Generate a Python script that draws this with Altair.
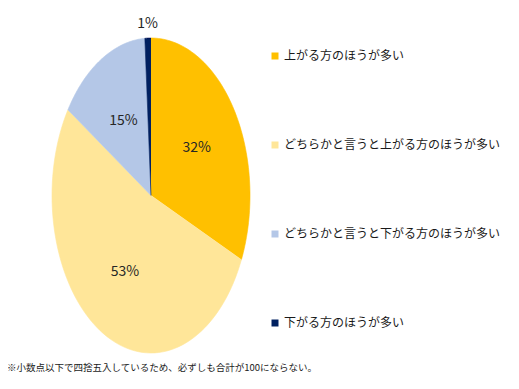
import altair as alt
import pandas as pd

categories = [
    "上がる方のほうが多い",
    "どちらかと言うと上がる方のほうが多い",
    "どちらかと言うと下がる方のほうが多い",
    "下がる方のほうが多い",
]
values = [32, 53, 15, 1]
colors = ["#FFC000", "#FFE699", "#B4C7E7", "#002060"]
note = ["※小数点以下で四捨五入しているため、必ずしも合計が100にならない。"]

FONT = "Noto Sans CJK JP"

df = pd.DataFrame({"category": categories, "value": values, "idx": list(range(len(values)))})

base = alt.Chart(df).transform_window(
    cum="sum(value)", sort=[alt.SortField("idx")], frame=[None, 0]
).transform_joinaggregate(
    total="sum(value)"
).transform_calculate(
    start="(datum.cum - datum.value) / datum.total * 2 * PI",
    end="datum.cum / datum.total * 2 * PI",
)

xs = alt.Scale(domain=[-1, 1], range=[44, 242])
ys = alt.Scale(domain=[-1, 1], range=[345, 30])

slices = base.transform_calculate(
    pts="sequence(0, 82)"
).transform_flatten(
    ["pts"], as_=["i"]
).transform_calculate(
    theta="datum.i == 0 ? 0 : datum.start + (datum.end - datum.start) * (datum.i - 1) / 80",
    px="datum.i == 0 ? 0 : sin(datum.theta)",
    py="datum.i == 0 ? 0 : cos(datum.theta)",
).mark_line(filled=True, strokeWidth=0.6).encode(
    x=alt.X("px:Q", scale=xs, axis=None),
    y=alt.Y("py:Q", scale=ys, axis=None),
    order=alt.Order("i:Q"),
    color=alt.Color(
        "category:N",
        scale=alt.Scale(domain=categories, range=colors),
        legend=alt.Legend(
            title=None,
            orient="none",
            legendX=261,
            legendY=42,
            symbolType="square",
            symbolSize=49,
            symbolStrokeWidth=0,
            labelFontSize=12,
            labelFont=FONT,
            labelColor="#1a1a1a",
            labelLimit=400,
            labelOffset=3,
            rowPadding=77,
            padding=0,
        ),
    ),
    stroke=alt.Stroke("category:N", scale=alt.Scale(domain=categories, range=colors), legend=None),
)

labels = base.transform_calculate(
    mid="(datum.start + datum.end) / 2",
    r="datum.value < 5 ? 1.09 : 0.55",
    lx="sin(datum.mid) * datum.r",
    ly="cos(datum.mid) * datum.r",
    lbl="datum.value + '%'",
).mark_text(font=FONT, fontSize=14, color="#262626").encode(
    x=alt.X("lx:Q", scale=xs, axis=None),
    y=alt.Y("ly:Q", scale=ys, axis=None),
    text="lbl:N",
)

foot = alt.Chart(pd.DataFrame({"note": note})).mark_text(
    font=FONT, fontSize=9.5, color="#1a1a1a", align="left", baseline="middle"
).encode(
    x=alt.value(-1),
    y=alt.value(360),
    text="note:N",
)

chart = alt.layer(slices, labels, foot).properties(
    width=503,
    height=373,
    autosize=alt.AutoSizeParams(type="none"),
    padding=0,
).configure_view(stroke=None).resolve_scale(x="shared", y="shared")

chart.save("out.html", embed_options={"renderer": "svg", "actions": False})
